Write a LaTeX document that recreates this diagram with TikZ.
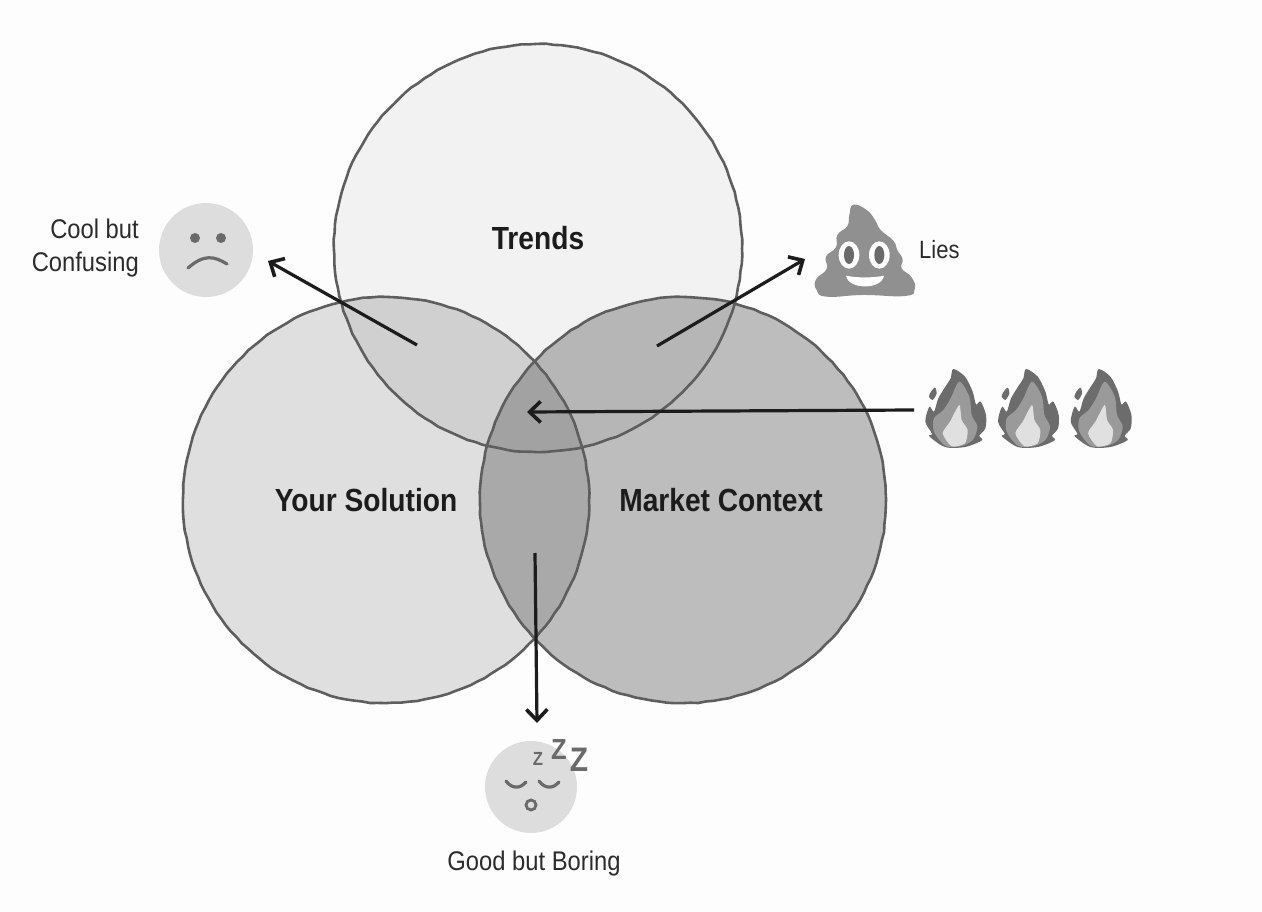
\documentclass[tikz,border=0pt]{standalone}
\usepackage{fontspec}
\setmainfont[FakeStretch=0.88]{Liberation Sans}
\usetikzlibrary{arrows.meta,decorations.pathmorphing}
\definecolor{bgc}{HTML}{FDFDFD}
\definecolor{cT}{HTML}{F2F2F2}
\definecolor{cS}{HTML}{DFDFDF}
\definecolor{cM}{HTML}{BDBDBD}
\definecolor{cTS}{HTML}{D0D0D0}
\definecolor{cTM}{HTML}{B6B6B6}
\definecolor{cSM}{HTML}{A9A9A9}
\definecolor{cTSM}{HTML}{A2A2A2}
\definecolor{edgec}{HTML}{5E5E5E}
\definecolor{inkc}{HTML}{1C1C1C}
\definecolor{txtc}{HTML}{2B2B2B}
\definecolor{facec}{HTML}{DDDDDD}
\definecolor{featc}{HTML}{6A6A6A}
\definecolor{poopc}{HTML}{909090}
\definecolor{fireA}{HTML}{6C6C6C}
\definecolor{fireB}{HTML}{9A9A9A}
\definecolor{fireC}{HTML}{E0E0E0}
\tikzset{
  x=1pt,y=-1pt,
  ring/.style={draw=edgec,line width=2.6pt,
    decorate,decoration={random steps,segment length=8pt,amplitude=0.45pt}},
  pointer/.style={draw=inkc,line width=3.2pt,
    -{Straight Barb[length=11pt,width=21pt,line width=3.6pt]}},
  lbl/.style={font=\fontsize{27}{33}\selectfont,text=txtc,inner sep=0pt},
  head/.style={font=\fontsize{32}{36}\selectfont\bfseries,text=inkc,inner sep=0pt},
  zzz/.style={text=featc,inner sep=0pt},
  feat/.style={draw=featc,line width=3.2pt,line cap=round},
  facedisc/.style={circle,fill=facec,minimum size=94pt,inner sep=0pt},
  flame/.pic={
    \fill[fireA] plot[smooth cycle,tension=.5] coordinates {(100,12)(135,35)(158,80)(168,118)(182,110)(198,150)(196,190)(178,212)(186,226)(135,246)(75,246)(28,214)(36,206)(16,170)(28,125)(42,140)(55,100)(78,62)(92,40)};
    \fill[fireA] plot[smooth cycle] coordinates {(45,68)(50,85)(38,105)(27,95)(33,80)};
    \fill[fireB] plot[smooth cycle,tension=.5] coordinates {(118,50)(148,95)(155,150)(172,185)(158,225)(120,244)(75,242)(42,200)(42,160)(70,135)(92,100)};
    \fill[fireC] plot[smooth cycle,tension=.4] coordinates {(118,120)(125,165)(143,195)(135,235)(95,244)(68,205)(90,170)};
  }
}
\begin{document}
\begin{tikzpicture}
\useasboundingbox (0,0) rectangle (1262,912);
\fill[bgc] (0,0) rectangle (1262,912);
\def\cT{(538,248) circle[radius=204]}
\def\cS{(386,500) circle[radius=203]}
\def\cM{(683,500) circle[radius=203]}
% fills
\fill[cS] \cS;
\fill[cM] \cM;
\fill[cT] \cT;
\begin{scope}\clip \cT; \fill[cTS] \cS; \fill[cTM] \cM; \end{scope}
\begin{scope}\clip \cS; \fill[cSM] \cM; \begin{scope}\clip \cT; \fill[cTSM] \cM; \end{scope}\end{scope}
% outlines
\draw[ring] \cS;
\draw[ring] \cM;
\draw[ring] \cT;
% labels
\node[head] (trends) at (538,238) {Trends};
\node[head] (solution) at (366,500) {Your Solution};
\node[head] (market) at (721,500) {Market Context};
% sad face
\node[facedisc] (sad) at (206,250) {};
\fill[featc] (195,238) circle[radius=5];
\fill[featc] (221,238) circle[radius=5];
\draw[feat] (188,268) .. controls (204,254) and (214,256) .. (227,264);
\node[lbl,align=right,anchor=east] (cool) at (139,248) {Cool but\\Confusing};
% poop
\begin{scope}[shift={(810,200)},scale=1/3]
\fill[poopc] plot[smooth cycle,tension=.8] coordinates {(130,14)(170,30)(195,60)(212,90)(250,122)(262,150)(278,178)(275,205)(305,232)(314,268)(285,288)(160,285)(50,290)(20,270)(18,238)(50,207)(48,170)(78,142)(82,105)(112,78)(118,45)};
\fill[white] (117,165) ellipse[x radius=31,y radius=41];
\fill[white] (208,165) ellipse[x radius=31,y radius=41];
\fill[featc] (117,165) ellipse[x radius=15,y radius=27];
\fill[featc] (208,165) ellipse[x radius=15,y radius=27];
\fill[white] (108,227) .. controls (140,234) and (190,234) .. (222,227) .. controls (215,270) and (115,270) .. (108,227) -- cycle;
\end{scope}
\node[lbl,anchor=west,font=\fontsize{25}{30}\selectfont] (lies) at (919,250) {Lies};
% flames
\pic[shift={(920,365)},scale=1/3] (f1) at (0,0) {flame};
\pic[shift={(992.7,365)},scale=1/3] (f2) at (0,0) {flame};
\pic[shift={(1065.4,365)},scale=1/3] (f3) at (0,0) {flame};
% sleepy face
\node[facedisc,minimum size=92pt] (sleep) at (531,787) {};
\draw[feat] (506,781) .. controls (512,789) and (520,789) .. (526,782);
\draw[feat] (539,781) .. controls (545,789) and (553,789) .. (559,782);
\draw[featc,line width=2.8pt] (531,805) circle[radius=5];
\node[zzz,font=\fontsize{19}{19}\selectfont\bfseries] (z1) at (538,759) {Z};
\node[zzz,font=\fontsize{29}{29}\selectfont\bfseries] (z2) at (559,750) {Z};
\node[zzz,font=\fontsize{34}{34}\selectfont\bfseries] (z3) at (579,760) {Z};
\node[lbl] (boring) at (534,864) {Good but Boring};
% connectors
\coordinate (ts) at (417,345);
\coordinate (tsEnd) at (268,261);
\coordinate (tm) at (657,346);
\coordinate (tmEnd) at (805,259);
\coordinate (fireStart) at (914,410);
\coordinate (centre) at (527,412);
\coordinate (sm) at (535,553);
\coordinate (smEnd) at (537,723);
\draw[pointer] (ts) -- (tsEnd);
\draw[pointer] (tm) -- (tmEnd);
\draw[pointer] (fireStart) -- (centre);
\draw[pointer] (sm) -- (smEnd);
\end{tikzpicture}
\end{document}
